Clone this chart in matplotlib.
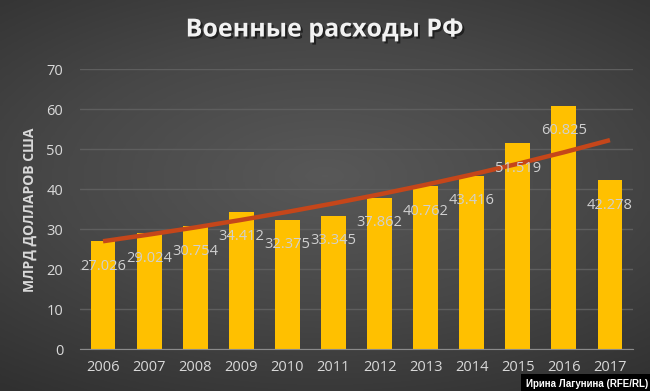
import numpy as np
import matplotlib
matplotlib.use('Agg')
import matplotlib.pyplot as plt
import matplotlib.patheffects as pe

years = ['2006', '2007', '2008', '2009', '2010', '2011',
         '2012', '2013', '2014', '2015', '2016', '2017']
spending = [27.026, 29.024, 30.754, 34.412, 32.375, 33.345,
            37.862, 40.762, 43.416, 51.519, 60.825, 42.278]
yticks = [0, 10, 20, 30, 40, 50, 60, 70]

title = 'Военные расходы РФ'
ylabel = 'МЛРД ДОЛЛАРОВ США'
credit = 'Ирина Лагунина (RFE/RL)'

plt.rcParams['font.family'] = ['Open Sans', 'DejaVu Sans']

fig = plt.figure(figsize=(6.5, 3.91), dpi=100)

# dark radial background
bg = fig.add_axes([0, 0, 1, 1])
gx, gy = np.meshgrid(np.linspace(-1, 1, 300), np.linspace(-1, 1, 200))
r = np.sqrt((gx * 0.9) ** 2 + ((gy - 0.1) * 1.1) ** 2)
cm = matplotlib.colors.LinearSegmentedColormap.from_list('bgc', ['#585858', '#474747', '#303030'])
bg.imshow(np.clip(r, 0, 1.6), cmap=cm, aspect='auto', extent=[0, 1, 0, 1],
          interpolation='bilinear', origin='lower')
bg.axis('off')

ax = fig.add_axes([80 / 650, 1 - 349.3 / 391, 553 / 650, (349.3 - 69.3) / 391])
ax.set_facecolor('none')
x = np.arange(len(years))
ax.bar(x, spending, width=0.54, color='#ffc000', zorder=2)

# exponential trend (as in the spreadsheet)
k, b = np.polyfit(x, np.log(spending), 1)
ax.plot(x, np.exp(b + k * x), color='#c5461a', lw=3.2, solid_capstyle='butt', zorder=3)

for xi, v in zip(x, spending):
    ax.annotate('%.3f' % v, (xi, v), xytext=(0, -18), textcoords='offset points',
                ha='center', va='center', color='#d0d0d0', fontsize=10.5, zorder=4)

ax.set_xlim(-0.5, len(years) - 0.5)
ax.set_ylim(0, 70)
ax.set_yticks(yticks)
ax.set_xticks(x)
ax.set_xticklabels(years)
ax.grid(axis='y', color='#5e5e5e', lw=1, zorder=0)
for s in ['top', 'right', 'left']:
    ax.spines[s].set_visible(False)
ax.spines['bottom'].set_color('#8a8a8a')
ax.spines['bottom'].set_zorder(5)
ax.tick_params(length=0, colors='#d9d9d9', labelsize=10.5)
ax.tick_params(axis='y', pad=12)
ax.tick_params(axis='x', pad=8)
ax.set_ylabel(ylabel, color='#d9d9d9', fontsize=10, fontweight='bold', labelpad=7)

fig.text(0.5, 1 - 30 / 391, title, ha='center', va='center', color='#f2f2f2',
         fontsize=18, fontweight='bold',
         path_effects=[pe.withSimplePatchShadow(offset=(1.5, -1.5), shadow_rgbFace='black', alpha=0.5)])

fig.text(0.997, 0.006, credit, ha='right', va='bottom', color='white', fontsize=7,
         fontweight='bold', family=['Liberation Sans', 'DejaVu Sans'],
         bbox=dict(boxstyle='square,pad=0.45', fc='black', ec='none'))

fig.savefig('out.png', dpi=100)
